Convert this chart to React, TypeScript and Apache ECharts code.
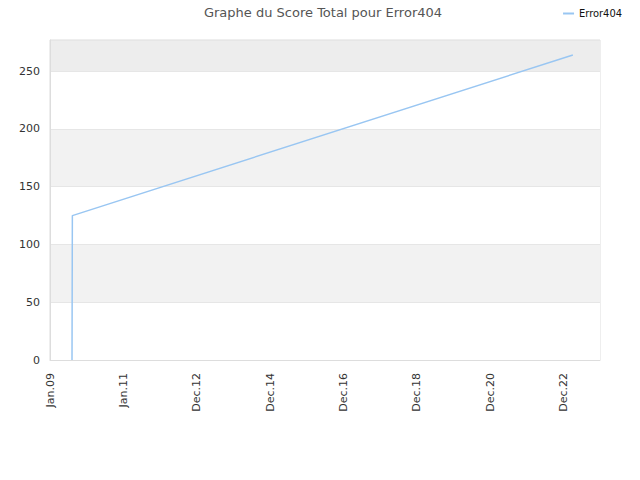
import React, { useEffect, useRef } from "react";
import * as echarts from "echarts";

const xTickLabels = ["Jan.09", "Jan.11", "Dec.12", "Dec.14", "Dec.16", "Dec.18", "Dec.20", "Dec.22"];
const xPositions = [0.3, 0.305, 7.13];
const scores = [0, 125, 264];
const seriesName = "Error404";
const titleText = "Graphe du Score Total pour Error404";

export default function App() {
  const ref = useRef<HTMLDivElement>(null);
  useEffect(() => {
    if (!ref.current) return;
    const chart = echarts.init(ref.current, null, { renderer: "svg" });
    chart.setOption({
      animation: false,
      backgroundColor: "#fff",
      textStyle: { fontFamily: "DejaVu Sans" },
      title: {
        text: titleText,
        left: 318,
        top: 1,
        textAlign: "center",
        textStyle: { fontSize: 13, fontWeight: "normal", color: "#555", fontFamily: "DejaVu Sans" },
      },
      legend: {
        right: 13,
        top: 3,
        itemWidth: 11,
        itemHeight: 2,
        icon: "rect",
        itemGap: 8,
        textStyle: { fontSize: 11, color: "#111", fontFamily: "DejaVu Sans Condensed" },
        data: [seriesName],
      },
      grid: {
        left: 50,
        right: 40,
        top: 40,
        bottom: 120,
        show: true,
        borderColor: "#ddd",
        borderWidth: 1,
        backgroundColor: "transparent",
      },
      xAxis: {
        type: "value",
        min: 0,
        max: 7.5,
        interval: 1,
        axisLine: { show: true, lineStyle: { color: "#ddd" } },
        axisTick: { show: false },
        splitLine: { show: false },
        axisLabel: {
          rotate: 90,
          color: "#333",
          fontSize: 11,
          margin: 13,
          showMaxLabel: false,
          formatter: (v: number) => {
            const i = Math.round(v);
            return Math.abs(v - i) < 1e-6 && xTickLabels[i] ? xTickLabels[i] : "";
          },
        },
      },
      yAxis: {
        type: "value",
        min: 0,
        max: 277,
        interval: 50,
        axisLine: { show: true, lineStyle: { color: "#ddd" } },
        axisTick: { show: false },
        splitLine: { show: true, lineStyle: { color: "#e6e6e6" } },
        splitArea: {
          show: true,
          areaStyle: { color: ["#ffffff", "#f2f2f2", "#ffffff", "#f2f2f2", "#ffffff", "#ededed"] },
        },
        axisLabel: {
          color: "#333",
          fontSize: 11,
          margin: 10,
          showMaxLabel: false,
          formatter: (v: number) => (v % 50 === 0 ? String(v) : ""),
        },
      },
      series: [
        {
          name: seriesName,
          type: "line",
          data: xPositions.map((x, i) => [x, scores[i]]),
          showSymbol: false,
          symbol: "none",
          lineStyle: { color: "#99c6f2", width: 1.5 },
          itemStyle: { color: "#99c6f2" },
        },
      ],
    });
    return () => chart.dispose();
  }, []);
  return <div ref={ref} style={{ width: 640, height: 480, margin: -8 }} />;
}
